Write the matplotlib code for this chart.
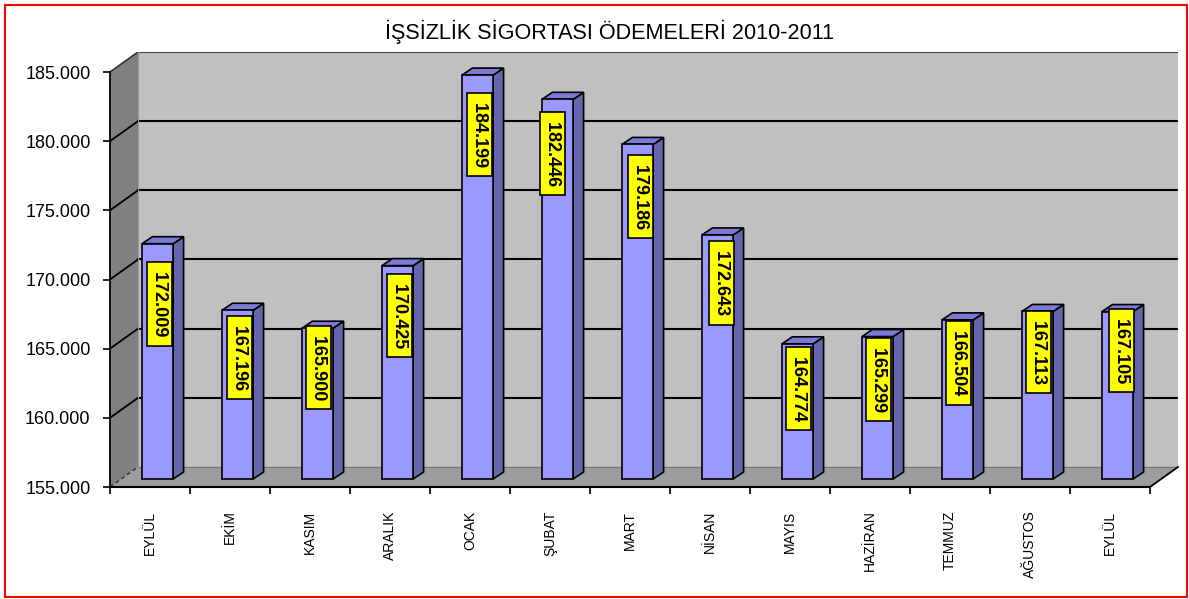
import matplotlib
matplotlib.use("Agg")
import matplotlib.pyplot as plt
from matplotlib.patches import Rectangle, Polygon
from matplotlib.ticker import FuncFormatter, FixedLocator

plt.rcParams['font.family'] = ['Liberation Sans', 'DejaVu Sans']

# ---- data ----
categories = ["EYLÜL", "EKİM", "KASIM", "ARALIK", "OCAK", "ŞUBAT", "MART",
              "NİSAN", "MAYIS", "HAZİRAN", "TEMMUZ", "AĞUSTOS", "EYLÜL"]
values = [172009, 167196, 165900, 170425, 184199, 182446, 179186,
          172643, 164774, 165299, 166504, 167113, 167105]
labels = ["172.009", "167.196", "165.900", "170.425", "184.199", "182.446", "179.186",
          "172.643", "164.774", "165.299", "166.504", "167.113", "167.105"]
yticks = [155000, 160000, 165000, 170000, 175000, 180000, 185000]
title = "İŞSİZLİK SİGORTASI ÖDEMELERİ 2010-2011"

# label placement tweaks (pixels below bar top / horizontal shift), as in the source chart
label_gap = [18, 5, -3, 8, 17, 12, 10, 6, 3, 1, 1, -1, -3]
label_dx = [1.5, 1.5, 0.5, 1.5, 1.5, -6, 2, 3, 0.5, 0, 0, 0, 3]

W, H = 1189, 599
fig = plt.figure(figsize=(W / 100, H / 100), dpi=100)

# axes geometry (pixels)
L_px, R_px, B_px, T_px = 110, 1178, 487, 52
ax = fig.add_axes([L_px / W, 1 - B_px / H, (R_px - L_px) / W, (B_px - T_px) / H])

n = len(categories)
ymin, ymax = yticks[0], yticks[-1]
DX = 0.35           # depth offset in category units
DY = 1446           # depth offset in value units
ax.set_xlim(0, n + DX)
ax.set_ylim(ymin, ymax + DY)
for s in ax.spines.values():
    s.set_visible(False)
ax.patch.set_visible(False)

# walls
ax.add_patch(Polygon([(DX, ymin + DY), (n + DX, ymin + DY), (n + DX, ymax + DY), (DX, ymax + DY)],
                     closed=True, facecolor="#C0C0C0", edgecolor="none", zorder=0))
ax.add_patch(Polygon([(0, ymin), (DX, ymin + DY), (DX, ymax + DY), (0, ymax)],
                     closed=True, facecolor="#808080", edgecolor="none", zorder=0))
ax.add_patch(Polygon([(0, ymin), (n, ymin), (n + DX, ymin + DY), (DX, ymin + DY)],
                     closed=True, facecolor="#9C9C9C", edgecolor="none", zorder=0))

# gridlines
for v in yticks:
    if v == ymin:
        ax.plot([0, DX], [v, v + DY], color="#333333", lw=1.0, ls=(0, (3, 2)), zorder=1)
        ax.plot([DX, n + DX], [v + DY, v + DY], color="#777777", lw=1.0, zorder=1)
    elif v == ymax:
        ax.plot([0, DX], [v, v + DY], color="#333333", lw=1.2, zorder=1)
        ax.plot([DX, n + DX], [v + DY, v + DY], color="#444444", lw=1.5, zorder=1)
    else:
        ax.plot([0, DX], [v, v + DY], color="black", lw=1.3, zorder=1)
        ax.plot([DX, n + DX], [v + DY, v + DY], color="black", lw=1.5, zorder=1)
ax.plot([DX, DX], [ymin + DY, ymax + DY], color="#999999", lw=0.8, zorder=1)
ax.plot([n + DX, n + DX], [ymin + DY, ymax + DY], color="#999999", lw=0.8, zorder=1)

# axis lines
ax.plot([0, 0], [ymin, ymax], color="black", lw=1.3, zorder=3, clip_on=False)
ax.plot([0, n], [ymin, ymin], color="black", lw=1.5, zorder=3, clip_on=False)
ax.plot([n, n + DX], [ymin, ymin + DY], color="black", lw=1.3, zorder=3, clip_on=False)

# bars
f_dy = 0.40 * DY
bx0, bx1 = 0.40, 0.79
bdx, bdy = 0.13, 506
front_c = "#9999FF"
side_c = "#6666AA"
top_c = "#7B7BD6"
for i, v in enumerate(values):
    x0 = i + bx0
    x1 = i + bx1
    y0 = ymin + f_dy
    y1 = v + f_dy
    ax.add_patch(Polygon([(x1, y0), (x1 + bdx, y0 + bdy), (x1 + bdx, y1 + bdy), (x1, y1)],
                         closed=True, facecolor=side_c, edgecolor="black", lw=1.2, zorder=4))
    ax.add_patch(Polygon([(x0, y1), (x1, y1), (x1 + bdx, y1 + bdy), (x0 + bdx, y1 + bdy)],
                         closed=True, facecolor=top_c, edgecolor="black", lw=1.2, zorder=4))
    ax.add_patch(Rectangle((x0, y0), x1 - x0, y1 - y0,
                           facecolor=front_c, edgecolor="black", lw=1.2, zorder=5))
    ax.annotate(" " + labels[i] + " ", xy=((x0 + x1) / 2, y1),
                xytext=(label_dx[i] + 0.5, -(label_gap[i] + 4.5)), textcoords="offset pixels",
                rotation=-90, ha="center", va="top", fontsize=13, fontweight="bold",
                bbox=dict(boxstyle="square,pad=0.22", facecolor="#FFFF00", edgecolor="black", lw=1.2),
                zorder=6, annotation_clip=False)

# ticks
ax.yaxis.set_major_locator(FixedLocator(yticks))
ax.yaxis.set_major_formatter(FuncFormatter(lambda v, p: f"{v:,.0f}".replace(",", ".")))
ax.tick_params(axis="y", direction="out", length=5, width=1.2, pad=9, labelsize=13, colors="black")
ax.xaxis.set_major_locator(FixedLocator(list(range(n + 1))))
ax.xaxis.set_minor_locator(FixedLocator([i + 0.5 for i in range(n)]))
ax.tick_params(axis="x", which="major", direction="out", length=5, width=1.2, labelbottom=False)
ax.tick_params(axis="x", which="minor", length=0, pad=17, labelsize=10)
ax.set_xticklabels(categories, minor=True, rotation=90, va="top", ha="center")

# title
fig.text(609.5 / W, 1 - 32 / H, title, ha="center", va="center", fontsize=15.6, color="black")

# red border
fig.add_artist(Rectangle((5 / W, 2 / H), (1187 - 5) / W, (597 - 5) / H, transform=fig.transFigure,
                         fill=False, edgecolor="red", lw=1.5))

fig.savefig("out.png", dpi=100)
